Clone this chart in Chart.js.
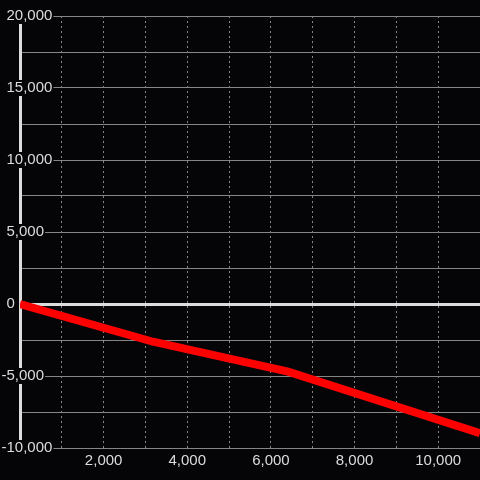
<!DOCTYPE html>
<html>
<head>
<meta charset="utf-8">
<script src="https://cdn.jsdelivr.net/npm/chart.js@4.4.1/dist/chart.umd.min.js"></script>
<style>
    html, body { margin: 0; padding: 0; background: #050508; }
    #wrap { width: 480px; height: 480px; }
</style>
</head>
<body>
<div id="wrap"><canvas id="chart" width="480" height="480"></canvas></div>
<script>
// valores
const xValues = [0, 3180, 6410, 11000];
const yValues = [0, -2620, -4700, -8980];

const xTickLabels = [2000, 4000, 6000, 8000, 10000];
const yTickLabels = [-10000, -5000, 0, 5000, 10000, 15000, 20000];

const BG = '#050508';
const TEXT = '#dcdcdc';
const GRID = '#858585';
const FONT = { family: '"Liberation Sans", Arial, sans-serif', size: 15 };

const fmt = v => Math.abs(v).toLocaleString('en-US');

const canvas = document.getElementById('chart');

new Chart(canvas, {
    type: 'line',
    data: {
        datasets: [{
            data: xValues.map((x, i) => ({ x, y: yValues[i] })),
            borderColor: '#ff0000',
            borderWidth: 8,
            pointRadius: 0,
            tension: 0,
            clip: 0
        }]
    },
    options: {
        responsive: false,
        animation: false,
        layout: { padding: { left: 20, top: 16, right: 0, bottom: 6 } },
        plugins: {
            legend: { display: false },
            tooltip: { enabled: false }
        },
        scales: {
            x: {
                type: 'linear',
                min: 0,
                max: 11000,
                afterFit: scale => {
                    scale.paddingLeft = 0;
                    scale.paddingRight = 0;
                },
                border: { display: false, dash: [2, 3] },
                grid: {
                    drawTicks: false,
                    color: ctx => (ctx.tick && (ctx.tick.value === 0 || ctx.tick.value === 11000)) ? 'transparent' : GRID
                },
                ticks: {
                    stepSize: 1000,
                    autoSkip: false,
                    maxRotation: 0,
                    padding: 4,
                    color: TEXT,
                    font: FONT,
                    callback: value => xTickLabels.includes(value) ? fmt(value) : ''
                }
            },
            y: {
                min: -10000,
                max: 20000,
                afterFit: scale => { scale.width = 0; },
                border: { display: true, color: TEXT, width: 3 },
                grid: {
                    drawTicks: false,
                    color: ctx => (ctx.tick && ctx.tick.value === 0) ? TEXT : GRID,
                    lineWidth: ctx => (ctx.tick && ctx.tick.value === 0) ? 3 : 1
                },
                ticks: {
                    stepSize: 2500,
                    autoSkip: false,
                    mirror: true,
                    padding: -18.5,
                    color: TEXT,
                    font: FONT,
                    showLabelBackdrop: ctx => yTickLabels.includes(ctx.tick.value),
                    backdropColor: BG,
                    backdropPadding: { left: 0, right: 1, top: -1, bottom: -1 },
                    callback: value => {
                        if (!yTickLabels.includes(value)) return '';
                        return (value < 0 ? '-' : '\u2004') + fmt(value);
                    }
                }
            }
        }
    }
});
</script>
</body>
</html>
